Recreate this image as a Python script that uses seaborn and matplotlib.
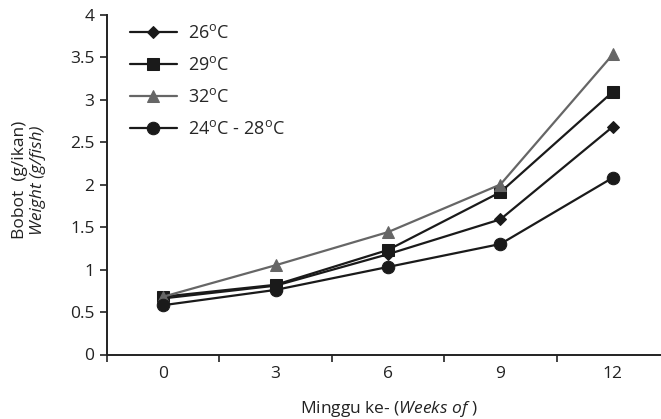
import matplotlib
matplotlib.use("Agg")
import matplotlib.pyplot as plt
import seaborn as sns
import pandas as pd
import numpy as np
from matplotlib.ticker import FixedLocator

sns.set_theme(style="white")
plt.rcParams['font.family'] = ['Open Sans', 'DejaVu Sans']
plt.rcParams['mathtext.fontset'] = 'custom'
plt.rcParams['mathtext.rm'] = 'Open Sans'
plt.rcParams['mathtext.it'] = 'Open Sans:italic'

weeks = ["0", "3", "6", "9", "12"]
series_labels = ["26$^{\\mathrm{o}}$C", "29$^{\\mathrm{o}}$C", "32$^{\\mathrm{o}}$C",
                 "24$^{\\mathrm{o}}$C - 28$^{\\mathrm{o}}$C"]
w26 = [0.66, 0.81, 1.18, 1.59, 2.68]
w29 = [0.68, 0.82, 1.23, 1.91, 3.09]
w32 = [0.68, 1.05, 1.44, 2.00, 3.53]
w24_28 = [0.58, 0.76, 1.03, 1.30, 2.08]

values = [w26, w29, w32, w24_28]
markers = ["D", "s", "^", "o"]
msizes = [6.5, 8, 8.5, 9]
colors = ["#1a1a1a", "#1a1a1a", "#666666", "#1a1a1a"]

rows = []
for lab, vals in zip(series_labels, values):
    for i, v in enumerate(vals):
        rows.append({"pos": i, "weight": v, "series": lab})
df = pd.DataFrame(rows)

fig = plt.figure(figsize=(6.61, 4.19), dpi=100)
ax = fig.add_axes([107/661, 1 - 354.5/419, (669-107)/661, (354.5-14.5)/419])

for lab, m, ms, c in zip(series_labels, markers, msizes, colors):
    sub = df[df["series"] == lab]
    sns.lineplot(data=sub, x="pos", y="weight", ax=ax, color=c, marker=m,
                 markersize=ms, markeredgecolor=c, markerfacecolor=c,
                 linewidth=1.6, label=lab, legend=False)

FS = 12.5
ax.set_xlim(-0.5, 4.5)
ax.set_ylim(0, 4)
ax.set_xticks(range(len(weeks)))
ax.set_xticklabels(weeks)
ax.xaxis.set_minor_locator(FixedLocator(np.arange(-0.5, 5, 1)))
ax.tick_params(axis='x', which='major', length=0, labelsize=FS, pad=8, colors='#222222')
ax.tick_params(axis='x', which='minor', length=5, width=1.2, direction='out', color='#222222', bottom=True)
ax.set_yticks([0, 0.5, 1, 1.5, 2, 2.5, 3, 3.5, 4])
ax.set_yticklabels(["0", "0.5", "1", "1.5", "2", "2.5", "3", "3.5", "4"])
ax.tick_params(axis='y', length=5, width=1.2, direction='out', labelsize=FS, colors='#222222', left=True, pad=4)
for s in ["top", "right"]:
    ax.spines[s].set_visible(False)
for s in ["left", "bottom"]:
    ax.spines[s].set_color("#222222")
    ax.spines[s].set_linewidth(1.4)
ax.set_xlabel("")
ax.set_ylabel("")

fig.text(389/661, 1 - 413/419, "Minggu ke- ($\\it{Weeks\\ of}$ )",
         ha='center', va='baseline', fontsize=12.5, color='#222222')
fig.text(20/661, 1 - 180/419, "Bobot  (g/ikan)", rotation=90, ha='center', va='center',
         fontsize=12.5, color='#222222')
fig.text(38/661, 1 - 180/419, "Weight (g/fish)", rotation=90, ha='center', va='center',
         fontsize=12.5, color='#222222', style='italic')

handles, labels = ax.get_legend_handles_labels()
ax.legend(handles, labels, loc='upper left', bbox_to_anchor=(0.012, 1.02), frameon=False,
          fontsize=13, handlelength=2.6, labelspacing=0.78, handletextpad=0.6)

fig.savefig("out.png", dpi=100)
